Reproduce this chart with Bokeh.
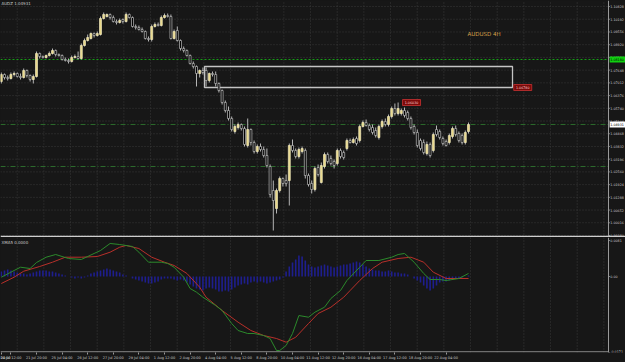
import numpy as np
from bokeh.plotting import figure
from bokeh.layouts import column
from bokeh.models import Range1d, FixedTicker, ColumnDataSource
from bokeh.core.properties import value
from bokeh.embed import file_html
from bokeh.resources import INLINE

# ---------------- data (AUDUSD H4) ----------------
opens = [1.0708,1.0743,1.0728,1.0723,1.0743,1.0748,1.0733,1.0728,1.0763,1.0738,
         1.0718,1.0733,1.0848,1.0833,1.0828,1.0838,1.0848,1.0863,1.0843,1.0838,
         1.0818,1.0813,1.0808,1.0828,1.0833,1.0823,1.0888,1.0913,1.0923,1.0948,
         1.0938,1.0943,1.1023,1.1033,1.1043,1.1028,1.1008,1.1003,1.1018,1.1008,
         1.1043,1.1028,1.0983,1.0978,1.0968,1.0958,1.0923,1.0918,1.0983,1.0993,
         1.0988,1.1028,1.1038,1.1033,1.0923,1.0963,1.0913,1.0873,1.0863,1.0838,
         1.0798,1.0783,1.0748,1.0763,1.0763,1.0713,1.0748,1.0743,1.0698,1.0663,
         1.0603,1.0563,1.0523,1.0458,1.0478,1.0493,1.0473,1.0388,1.0468,1.0403,
         1.0358,1.0383,1.0368,1.0338,1.0283,1.0163,1.0073,1.0163,1.0223,1.0213,
         1.0213,1.0388,1.0363,1.0333,1.0358,1.0363,1.0238,1.0198,1.0168,1.0278,
         1.0203,1.0283,1.0343,1.0323,1.0308,1.0298,1.0363,1.0353,1.0373,1.0413,
         1.0403,1.0423,1.0413,1.0483,1.0503,1.0488,1.0478,1.0463,1.0428,1.0483,
         1.0508,1.0493,1.0533,1.0573,1.0548,1.0548,1.0563,1.0553,1.0523,1.0483,
         1.0453,1.0413,1.0403,1.0348,1.0393,1.0363,1.0468,1.0458,1.0423,1.0408,
         1.0403,1.0433,1.0473,1.0448,1.0438,1.0403,1.0458]
highs = [1.0753,1.0748,1.0738,1.0753,1.0758,1.0753,1.0748,1.0773,1.0768,1.0743,
         1.0743,1.0858,1.0853,1.0838,1.0843,1.0858,1.0873,1.0868,1.0848,1.0843,
         1.0828,1.0823,1.0838,1.0843,1.0858,1.0898,1.0923,1.0943,1.0953,1.0953,
         1.0958,1.1033,1.1053,1.1048,1.1048,1.1038,1.1018,1.1023,1.1023,1.1053,
         1.1048,1.1033,1.0993,1.0988,1.0978,1.0963,1.0933,1.0993,1.1003,1.1003,
         1.1038,1.1048,1.1048,1.1043,1.0968,1.0983,1.0918,1.0883,1.0868,1.0843,
         1.0808,1.0788,1.0768,1.0778,1.0778,1.0753,1.0758,1.0758,1.0703,1.0668,
         1.0613,1.0583,1.0533,1.0493,1.0503,1.0498,1.0483,1.0523,1.0473,1.0413,
         1.0393,1.0398,1.0383,1.0373,1.0293,1.0213,1.0173,1.0233,1.0228,1.0243,
         1.0398,1.0418,1.0373,1.0378,1.0383,1.0373,1.0248,1.0213,1.0283,1.0293,
         1.0303,1.0353,1.0353,1.0338,1.0318,1.0373,1.0373,1.0363,1.0423,1.0423,
         1.0428,1.0433,1.0493,1.0513,1.0518,1.0498,1.0493,1.0478,1.0493,1.0518,
         1.0523,1.0543,1.0583,1.0598,1.0603,1.0573,1.0578,1.0563,1.0533,1.0493,
         1.0468,1.0423,1.0418,1.0408,1.0403,1.0453,1.0488,1.0468,1.0433,1.0418,
         1.0448,1.0483,1.0488,1.0458,1.0448,1.0463,1.0503]
lows = [1.0698,1.0718,1.0713,1.0718,1.0733,1.0728,1.0718,1.0723,1.0728,1.0708,
        1.0698,1.0728,1.0823,1.0823,1.0823,1.0833,1.0843,1.0833,1.0833,1.0813,
        1.0808,1.0798,1.0803,1.0823,1.0818,1.0818,1.0883,1.0908,1.0918,1.0928,
        1.0933,1.0938,1.1018,1.1028,1.1018,1.1003,1.0993,1.0998,1.0998,1.1003,
        1.1023,1.0978,1.0968,1.0963,1.0953,1.0918,1.0908,1.0908,1.0978,1.0983,
        1.0983,1.1023,1.1028,1.0918,1.0918,1.0908,1.0863,1.0853,1.0833,1.0793,
        1.0773,1.0683,1.0728,1.0743,1.0683,1.0703,1.0733,1.0683,1.0653,1.0593,
        1.0553,1.0513,1.0458,1.0448,1.0468,1.0463,1.0383,1.0378,1.0388,1.0348,
        1.0348,1.0358,1.0328,1.0278,1.0128,0.9963,1.0048,1.0153,1.0183,1.0183,
        1.0088,1.0353,1.0323,1.0323,1.0348,1.0223,1.0183,1.0148,1.0158,1.0233,
        1.0198,1.0273,1.0298,1.0288,1.0273,1.0288,1.0323,1.0318,1.0363,1.0398,
        1.0398,1.0388,1.0403,1.0478,1.0483,1.0458,1.0443,1.0428,1.0418,1.0473,
        1.0483,1.0483,1.0523,1.0538,1.0538,1.0538,1.0528,1.0513,1.0468,1.0443,
        1.0378,1.0363,1.0343,1.0338,1.0328,1.0353,1.0433,1.0418,1.0388,1.0383,
        1.0393,1.0423,1.0433,1.0403,1.0393,1.0393,1.0448]
closes = [1.0743,1.0728,1.0723,1.0743,1.0748,1.0733,1.0728,1.0763,1.0738,1.0718,
          1.0733,1.0848,1.0833,1.0828,1.0838,1.0848,1.0863,1.0843,1.0838,1.0818,
          1.0813,1.0808,1.0828,1.0833,1.0823,1.0888,1.0913,1.0928,1.0948,1.0938,
          1.0948,1.1023,1.1043,1.1043,1.1028,1.1008,1.1003,1.1013,1.1008,1.1043,
          1.1028,1.0983,1.0978,1.0968,1.0958,1.0923,1.0918,1.0983,1.0993,1.0988,
          1.1028,1.1038,1.1033,1.0923,1.0958,1.0913,1.0873,1.0863,1.0838,1.0798,
          1.0783,1.0748,1.0763,1.0753,1.0713,1.0748,1.0743,1.0698,1.0663,1.0603,
          1.0563,1.0523,1.0468,1.0483,1.0493,1.0473,1.0393,1.0468,1.0403,1.0358,
          1.0383,1.0368,1.0338,1.0288,1.0143,1.0113,1.0163,1.0223,1.0198,1.0198,
          1.0388,1.0363,1.0333,1.0368,1.0373,1.0238,1.0193,1.0168,1.0273,1.0243,
          1.0288,1.0343,1.0308,1.0298,1.0288,1.0363,1.0333,1.0328,1.0413,1.0403,
          1.0418,1.0398,1.0483,1.0503,1.0488,1.0468,1.0453,1.0438,1.0483,1.0508,
          1.0493,1.0533,1.0573,1.0548,1.0573,1.0563,1.0538,1.0523,1.0478,1.0453,
          1.0388,1.0373,1.0353,1.0393,1.0338,1.0443,1.0443,1.0428,1.0398,1.0388,
          1.0438,1.0473,1.0443,1.0413,1.0403,1.0453,1.0493]

# indicator (values read at bar positions)
green_x = [0,4,6,9,11,14,17,21,25,29,31,34,37,41,43,46,50,52,54,57,59,61,63,67,69,72,74,77,79,82,
           84,86,87,89,91,93,96,98,101,103,106,108,112,114,118,122,124,126,129,132,134,137,139,143,146]
green_v = [-0.00016,0.00135,0.00209,0.0018,0.00315,0.00434,0.00495,0.00405,0.00383,0.00518,
           0.00585,0.00743,0.0072,0.00675,0.00547,0.00322,0.00322,0.00293,0.00209,-0.00016,
           -0.0027,-0.00353,-0.00466,-0.00653,-0.00765,-0.01058,-0.01215,-0.01283,-0.01283,-0.01328,
           -0.01395,-0.01665,-0.01665,-0.01553,-0.01283,-0.00878,-0.00916,-0.00803,-0.00691,-0.00495,
           -0.00315,-0.0009,0.00209,0.0036,0.0036,0.00434,0.00495,0.00518,0.00322,0.00068,
           -0.00068,-0.00068,-0.0009,-0.00045,0.00068]
red_x = [0,4,7,12,16,20,25,30,34,37,39,43,47,51,54,58,62,64,69,74,78,82,86,89,92,96,99,103,107,109,
         112,116,119,124,128,132,135,139,143,146]
red_v = [-0.00158,-0.00016,0.00119,0.00225,0.00322,0.00434,0.00434,0.0045,0.00547,0.00659,
         0.00698,0.0063,0.00434,0.00322,0.00248,0.00068,-0.00241,-0.00466,-0.00765,-0.01028,
         -0.01215,-0.01328,-0.01395,-0.01478,-0.01366,-0.01058,-0.00833,-0.00691,-0.00466,-0.00315,
         -0.0009,0.0018,0.00322,0.00405,0.00434,0.00322,0.00097,-0.00045,-0.00045,-0.00045]
hist = [0.00113,0.00135,0.00158,0.00135,0.00113,0.0009,0.00068,0.00068,0.00045,0.00068,
        0.0009,0.00113,0.00135,0.00135,0.00135,0.00113,0.00113,0.0009,0.00068,0.00045,
        0.00023,0.0,-0.00023,-0.00045,-0.00023,-0.00045,-0.00023,0.00023,0.00068,0.0009,
        0.00113,0.00135,0.00158,0.0018,0.00158,0.00135,0.00113,0.0009,0.00045,0.00023,
        0.0,-0.00045,-0.00068,-0.0009,-0.00113,-0.00135,-0.00158,-0.00158,-0.00135,-0.00113,
        -0.00068,-0.00045,-0.00045,-0.00045,-0.00068,-0.0009,-0.00068,-0.0009,-0.00135,-0.0018,
        -0.00225,-0.0027,-0.00293,-0.00315,-0.0027,-0.00248,-0.0027,-0.00293,-0.00338,-0.00338,
        -0.00315,-0.00338,-0.00293,-0.00248,-0.00203,-0.0018,-0.00158,-0.0018,-0.00135,-0.00113,
        -0.00135,-0.00113,-0.00135,-0.00158,-0.00135,-0.00113,-0.0009,-0.00068,-0.00023,0.00113,
        0.00225,0.00315,0.00383,0.00473,0.0045,0.0036,0.0027,0.00225,0.00203,0.00225,
        0.00248,0.0027,0.00248,0.00225,0.00203,0.00225,0.00248,0.0027,0.0027,0.00293,
        0.00315,0.00338,0.00315,0.0027,0.00225,0.0018,0.00158,0.00135,0.00135,0.00113,
        0.00113,0.00135,0.00113,0.0009,0.0009,0.00068,0.00068,0.00045,0.0,-0.00045,
        -0.0009,-0.00135,-0.00203,-0.0027,-0.00315,-0.0027,-0.00203,-0.00135,-0.00113,-0.00113,
        -0.0009,-0.00068,-0.00045,-0.00045,-0.00023,0.0,0.00023]

price_ticks = [0.99380,1.00016,1.00652,1.01288,1.01924,1.02560,1.03196,1.03832,1.04468,1.05104,
               1.05740,1.06376,1.07012,1.07648,1.08284,1.08920,1.09556,1.10192,1.10828]
time_tick_bars = [0,3,11,19,27,35,43,51,59,67,75,83,91,99,107,115,123,131,139]
time_tick_labels = ["04:00","20 Jul 12:00","21 Jul 20:00","25 Jul 04:00","26 Jul 12:00",
                    "27 Jul 20:00","29 Jul 04:00","1 Aug 12:00","2 Aug 20:00","4 Aug 04:00",
                    "5 Aug 12:00","8 Aug 20:00","10 Aug 04:00","11 Aug 12:00","12 Aug 20:00",
                    "16 Aug 04:00","17 Aug 12:00","18 Aug 20:00","22 Aug 04:00"]
ind_ticks = [0.0081, 0.0, -0.0171]
ind_tick_labels = ["0.0081", "0.00", "-0.0171"]

level_upper = 1.0818
level_current = 1.04931
level_lower = 1.0283
box_x0, box_x1 = 63.5, 159.75
box_top, box_bottom = 1.0783, 1.0678
peak_bar, peak_price = 124, 1.0603

# ---------------- style / layout ----------------
BG = "#171717"
GRID = "#3a3a3a"
AXC = "#9a9a9a"
TXT = "#c8c8c8"
FONT = value("DejaVu Sans")
X0, X1 = -0.25, 195.06
AXIS_X = 189.75
LABEL_X = 190.3
Y0, Y1 = 0.9928, 1.1113
I0, I1 = -0.0171, 0.008775

bars = np.arange(len(opens))
o = np.array(opens); c = np.array(closes)
bull = c > o
src = ColumnDataSource(dict(
    x=bars, h=highs, l=lows,
    top=np.maximum(o, c), bottom=np.minimum(o, c),
    fill=np.where(bull, "#e9d98a", "#000000"),
    line=np.where(bull, "#f0e8bc", "#bdbdbd"),
))

p1 = figure(frame_width=625, frame_height=237, x_range=Range1d(X0, X1), y_range=Range1d(Y0, Y1),
            output_backend="svg", toolbar_location=None, x_axis_location=None, y_axis_location=None,
            min_border=0, background_fill_color=BG, border_fill_color=BG, outline_line_color=None)
p1.xgrid.visible = False
p1.ygrid.visible = False

vgrid = np.arange(4.97, AXIS_X, 8.333)
p1.segment(x0=X0, x1=AXIS_X, y0=price_ticks, y1=price_ticks, line_color=GRID, line_dash="1 2")
p1.segment(x0=vgrid, x1=vgrid, y0=Y0, y1=Y1, line_color=GRID, line_dash="1 2")

# levels
p1.segment(x0=[X0], x1=[AXIS_X], y0=[level_upper], y1=[level_upper], line_color="#14a014", line_dash="2 2")
p1.segment(x0=[X0, X0], x1=[AXIS_X, AXIS_X], y0=[level_current, level_lower], y1=[level_current, level_lower],
           line_color="#2c6a2c", line_dash="5 2 1 2")

# zone box
p1.quad(left=[box_x0], right=[box_x1], top=[box_top], bottom=[box_bottom],
        fill_alpha=0, line_color="#c4c4c4", line_width=1.3)

# candles
p1.segment(x0="x", x1="x", y0="h", y1="l", source=src, line_color="#b5b5b5", line_width=1)
p1.vbar(x="x", top="top", bottom="bottom", width=0.62, source=src,
        fill_color="fill", line_color="line", line_width=0.7)

# right price scale
p1.segment(x0=[AXIS_X], x1=[AXIS_X], y0=[Y0], y1=[Y1], line_color=AXC, line_width=1)
p1.segment(x0=AXIS_X, x1=AXIS_X + 0.4, y0=price_ticks, y1=price_ticks, line_color=AXC)
p1.text(x=LABEL_X, y=price_ticks, text=["%.5f" % t for t in price_ticks], text_font=FONT,
        text_font_size="3.3px", text_color=TXT, text_baseline="middle", text_align="left")
p1.rect(x=[192.6, 192.6], y=[level_upper, level_current], width=16, height=6,
        width_units="screen", height_units="screen", fill_color=["#10d010", "#ffffff"], line_color=None)
p1.text(x=[LABEL_X, LABEL_X], y=[level_upper, level_current], text=["%.5f" % level_upper, "%.5f" % level_current],
        text_font=FONT, text_font_size="3.3px", text_color="#000000", text_baseline="middle", text_align="left")

# red price tags
p1.rect(x=[box_x1 + 3.2, peak_bar + 4.2], y=[box_bottom, peak_price], width=18, height=6,
        width_units="screen", height_units="screen", fill_color="#7a0a0a", line_color="#c83232", line_width=0.8)
p1.text(x=[box_x1 + 3.2, peak_bar + 4.2], y=[box_bottom, peak_price],
        text=["%.5f" % box_bottom, "%.5f" % peak_price], text_font=FONT, text_font_size="3.3px",
        text_color="#ffd8d8", text_baseline="middle", text_align="center")

# texts
p1.text(x=[X0 + 0.3], y=[1.1098], text=["AUDZ 1.04931"], text_font=FONT, text_font_size="4px",
        text_color=TXT, text_baseline="middle", text_align="left")
p1.text(x=[145.7], y=[1.0948], text=["AUDUSD 4H"], text_font=FONT, text_font_size="5.5px",
        text_color="#d6a04a", text_baseline="middle", text_align="left")

# separator
p1.segment(x0=[X0], x1=[X1], y0=[0.99315], y1=[0.99315], line_color="#cfcfcf", line_width=2)

# ---------------- indicator panel ----------------
p2 = figure(frame_width=625, frame_height=115, x_range=p1.x_range, y_range=Range1d(I0, I1),
            output_backend="svg", toolbar_location=None, y_axis_location=None, x_axis_location="below",
            min_border=0, background_fill_color=BG, border_fill_color=BG, outline_line_color=None)
p2.xgrid.visible = False
p2.ygrid.visible = False
p2.segment(x0=vgrid, x1=vgrid, y0=I0, y1=I1, line_color=GRID, line_dash="1 2")

p2.vbar(x=bars, top=hist, bottom=0, width=0.5, fill_color="#1e1e8e", line_color=None)
p2.line(x=red_x, y=red_v, line_color="#b8302a", line_width=1)
p2.line(x=green_x, y=green_v, line_color="#2c8a2c", line_width=1)

p2.segment(x0=[AXIS_X], x1=[AXIS_X], y0=[I0], y1=[I1], line_color=AXC)
p2.segment(x0=[X0], x1=[AXIS_X], y0=[-0.01695], y1=[-0.01695], line_color=AXC)
p2.segment(x0=AXIS_X, x1=AXIS_X + 0.4, y0=ind_ticks, y1=ind_ticks, line_color=AXC)
p2.text(x=LABEL_X, y=ind_ticks, text=ind_tick_labels, text_font=FONT, text_font_size="3.3px",
        text_color=TXT, text_baseline=["middle", "middle", "bottom"], text_align="left")
p2.text(x=[X0 + 0.3], y=[0.00765], text=["XMA5 0.0000"], text_font=FONT, text_font_size="4px",
        text_color=TXT, text_baseline="middle", text_align="left")

ax = p2.xaxis[0]
ax.ticker = FixedTicker(ticks=time_tick_bars)
ax.major_label_overrides = {b: lbl for b, lbl in zip(time_tick_bars, time_tick_labels)}
ax.axis_line_color = None
ax.major_tick_line_color = AXC
ax.major_tick_in = 0
ax.major_tick_out = 2
ax.minor_tick_line_color = None
ax.major_label_text_font_size = "3.5px"
ax.major_label_text_color = TXT
ax.major_label_text_font = "DejaVu Sans"
ax.major_label_text_align = "left"
ax.major_label_standoff = 1

layout = column(p1, p2, spacing=0, styles={"background-color": BG})
open("out.html", "w").write(file_html(layout, INLINE))
